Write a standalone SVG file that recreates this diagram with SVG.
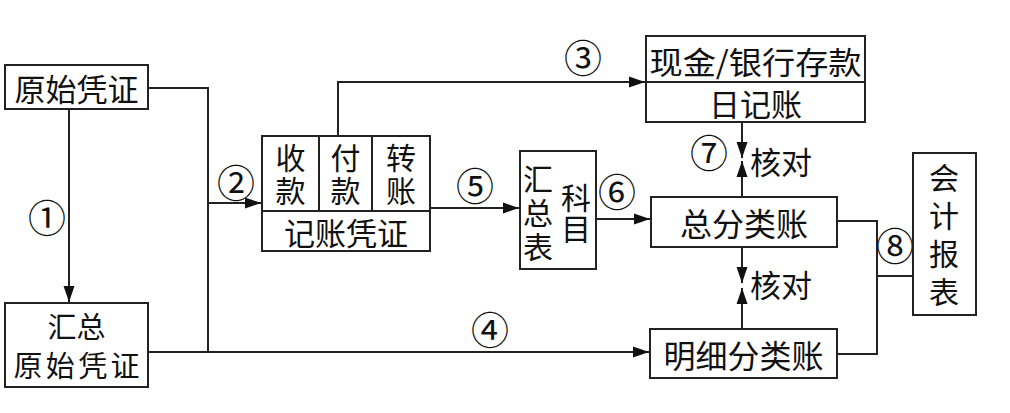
<svg xmlns="http://www.w3.org/2000/svg" width="1010" height="413" viewBox="0 0 1010 413">
<style>
.box{fill:#fff;stroke:#222;stroke-width:2}
.ln{fill:none;stroke:#222;stroke-width:2}
.t{font-family:"Noto Sans CJK SC","Noto Sans",sans-serif;font-size:31px;fill:#111;text-anchor:middle;dominant-baseline:central}
.v{font-family:"Noto Sans CJK SC","Noto Sans",sans-serif;font-size:30px;fill:#111;text-anchor:middle;writing-mode:vertical-rl}
.n{font-family:"Noto Sans CJK SC","DejaVu Sans",sans-serif;font-size:38px;fill:#111;text-anchor:middle;dominant-baseline:central}
</style>
<defs>
<marker id="ar" markerUnits="userSpaceOnUse" markerWidth="18" markerHeight="12" refX="16" refY="6" orient="auto">
<path d="M0,0.5 L16,6 L0,11.5 Z" fill="#111"/>
</marker>
</defs>
<g id="connectors">
<path class="ln" d="M69,109 V302" marker-end="url(#ar)"/>
<path class="ln" d="M148,88 H208 V352"/>
<path class="ln" d="M208,203 H261" marker-end="url(#ar)"/>
<path class="ln" d="M148,352 H649" marker-end="url(#ar)"/>
<path class="ln" d="M338,136 V82 H645" marker-end="url(#ar)"/>
<path class="ln" d="M430,208 H519" marker-end="url(#ar)"/>
<path class="ln" d="M596,219 H650" marker-end="url(#ar)"/>
<path class="ln" d="M742,122 V158" marker-end="url(#ar)"/>
<path class="ln" d="M742,197 V161" marker-end="url(#ar)"/>
<path class="ln" d="M742,247 V283" marker-end="url(#ar)"/>
<path class="ln" d="M742,329 V288" marker-end="url(#ar)"/>
<path class="ln" d="M837,221 H877 V354 H837"/>
<path class="ln" d="M877,276 H913"/>
<text class="n" x="47" y="215">①</text>
<text class="n" x="236" y="180">②</text>
<text class="n" x="583" y="55">③</text>
<text class="n" x="490" y="327">④</text>
<text class="n" x="475" y="183">⑤</text>
<text class="n" x="617" y="189">⑥</text>
<text class="n" x="709" y="150">⑦</text>
<text class="n" x="895" y="243">⑧</text>
<text class="t" x="781" y="160">核对</text>
<text class="t" x="781" y="283">核对</text>
</g>
<g id="yuanshi">
<rect class="box" x="5" y="65" width="143" height="44"/>
<text class="t" x="76.5" y="87">原始凭证</text>
</g>
<g id="huizong-yuanshi">
<rect class="box" x="5" y="303" width="143" height="84"/>
<text class="t" x="76.5" y="325" style="font-size:29px">汇总</text>
<text class="t" x="76.5" y="364" style="font-size:29px" textLength="126" lengthAdjust="spacing">原始凭证</text>
</g>
<g id="jizhang">
<rect class="box" x="262" y="136" width="168" height="115"/>
<path class="ln" d="M262,211 H430 M319,136 V211 M372,136 V211"/>
<text class="v" x="290.5" y="175.5" letter-spacing="3">收款</text>
<text class="v" x="345.5" y="175.5" letter-spacing="3">付款</text>
<text class="v" x="401" y="175.5" letter-spacing="3">转账</text>
<text class="t" x="346" y="231">记账凭证</text>
</g>
<g id="kemu">
<rect class="box" x="520" y="151" width="76" height="118"/>
<text class="v" x="538" y="214.5" letter-spacing="4">汇总表</text>
<text class="v" x="576" y="213.5" letter-spacing="1">科目</text>
</g>
<g id="rijizhang">
<rect class="box" x="646" y="36" width="219" height="86"/>
<path class="ln" d="M646,82 H865"/>
<text class="t" x="755.5" y="60" textLength="212" lengthAdjust="spacingAndGlyphs">现金/银行存款</text>
<text class="t" x="755.5" y="102">日记账</text>
</g>
<g id="zongfenlei">
<rect class="box" x="651" y="197" width="186" height="50"/>
<text class="t" x="744" y="222" style="font-size:32px">总分类账</text>
</g>
<g id="mingxi">
<rect class="box" x="650" y="329" width="187" height="49"/>
<text class="t" x="743.5" y="354" style="font-size:32px">明细分类账</text>
</g>
<g id="baobiao">
<rect class="box" x="913" y="153" width="63" height="162"/>
<text class="v" x="944" y="239" letter-spacing="8">会计报表</text>
</g>
</svg>
